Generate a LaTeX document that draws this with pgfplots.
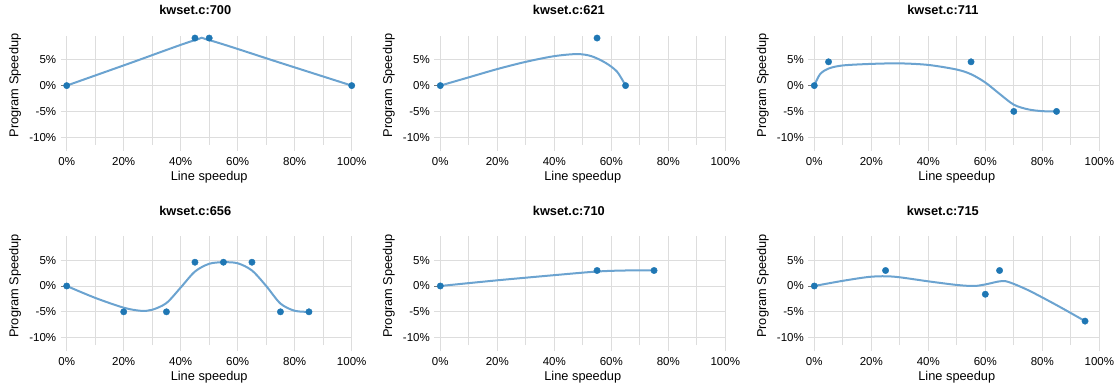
\documentclass[border=0pt]{standalone}
\usepackage{pgfplots}
\pgfplotsset{compat=1.18}
\usepackage{fontspec}
\setmainfont{Liberation Sans}
\definecolor{gridc}{HTML}{DDDDDD}
\definecolor{zeroc}{HTML}{777777}
\definecolor{curvec}{HTML}{6BA3D0}
\definecolor{ptc}{HTML}{1F77B4}
\pgfplotsset{
 coz/.style={
  scale only axis, width=285bp, height=109bp,
  xmin=0, xmax=100, ymin=-11.5, ymax=9.6,
  axis line style={draw=none},
  xtick={0,20,...,100}, xticklabels={0\%,20\%,40\%,60\%,80\%,100\%},
  minor xtick={10,30,50,70,90},
  ytick={-10,-5,0,5}, yticklabels={-10\%,-5\%,0\%,5\%},
  grid=both,
  major grid style={gridc, line width=0.8bp},
  minor grid style={gridc, line width=0.8bp},
  tick align=outside, tick pos=left,
  major tick length=6bp, minor tick length=0pt,
  tick style={gridc, line width=0.8bp},
  extra y ticks={0}, extra y tick labels={},
  extra y tick style={grid style={zeroc, line width=0.8bp}, tick style={zeroc}},
  tick label style={font=\fontsize{11.5bp}{13bp}\selectfont},
  xticklabel style={yshift=-2.5bp},
  yticklabel style={xshift=-1bp},
  label style={font=\fontsize{12.8bp}{15bp}\selectfont},
  title style={font=\fontsize{12.8bp}{15bp}\selectfont\bfseries, at={(axis description cs:0.451,1.18)}, anchor=center},
  xlabel={Line speedup}, ylabel={Program Speedup},
  xlabel style={at={(axis description cs:0.5,-0.291)}, anchor=center},
  ylabel style={at={(axis description cs:-0.181,0.546)}, anchor=center},
  clip=false,
 },
 curve/.style={curvec, line width=2bp, smooth, no markers},
 pts/.style={color=ptc, only marks, mark=*, mark size=3.2bp, mark options={solid, fill=ptc, draw=ptc, line width=0.4bp}},
}
\begin{document}
\begin{tikzpicture}
\path[use as bounding box] (0,0) rectangle (1119bp,388bp);
% top row
\begin{axis}[coz, at={(66.7bp,243bp)}, anchor=south west, title={kwset.c:700}]
\addplot[curve] coordinates {(0,0)(22,4.3)(45,8.8)(50,8.8)(75,4.4)(100,0)};
\addplot[pts] coordinates {(0,0)(45,9.2)(50,9.2)(100,0)};
\end{axis}
\begin{axis}[coz, at={(440.3bp,243bp)}, anchor=south west, title={kwset.c:621}]
\addplot[curve] coordinates {(0,0)(10,1.6)(20,3.2)(30,4.6)(40,5.7)(48,6.1)(53,5.7)(58,4.4)(62,2.7)(65,0)};
\addplot[pts] coordinates {(0,0)(55,9.2)(65,0)};
\end{axis}
\begin{axis}[coz, at={(814.3bp,243bp)}, anchor=south west, title={kwset.c:711}]
\addplot[curve] coordinates {(0,0)(2,2.2)(5,3.3)(10,3.9)(20,4.2)(30,4.3)(40,4.0)(50,3.1)(55,2.2)(60,0.6)(65,-1.6)(70,-3.7)(75,-4.6)(80,-4.95)(85,-5)};
\addplot[pts] coordinates {(0,0)(5,4.6)(55,4.6)(70,-5)(85,-5)};
\end{axis}
% bottom row
\begin{axis}[coz, at={(66.7bp,42.6bp)}, anchor=south west, title={kwset.c:656}]
\addplot[curve] coordinates {(0,0)(10,-2.3)(20,-4.2)(26,-4.8)(30,-4.6)(35,-3.3)(40,-0.3)(45,2.8)(50,4.3)(55,4.6)(60,4.4)(65,3.0)(70,0)(75,-3.4)(80,-4.8)(85,-5)};
\addplot[pts] coordinates {(0,0)(20,-5)(35,-5)(45,4.6)(55,4.6)(65,4.6)(75,-5)(85,-5)};
\end{axis}
\begin{axis}[coz, at={(440.3bp,42.6bp)}, anchor=south west, title={kwset.c:710}]
\addplot[curve] coordinates {(0,0)(20,1.1)(40,2.1)(55,2.8)(65,3.0)(75,3.0)};
\addplot[pts] coordinates {(0,0)(55,3)(75,3)};
\end{axis}
\begin{axis}[coz, at={(814.3bp,42.6bp)}, anchor=south west, title={kwset.c:715}]
\addplot[curve] coordinates {(0,0)(10,1.0)(20,1.8)(28,1.8)(40,0.9)(50,0.2)(56,0.0)(60,0.3)(65,0.9)(68,0.8)(75,-0.8)(85,-3.7)(95,-6.8)};
\addplot[pts] coordinates {(0,0)(25,3.0)(60,-1.6)(65,3.0)(95,-6.8)};
\end{axis}
\end{tikzpicture}
\end{document}
